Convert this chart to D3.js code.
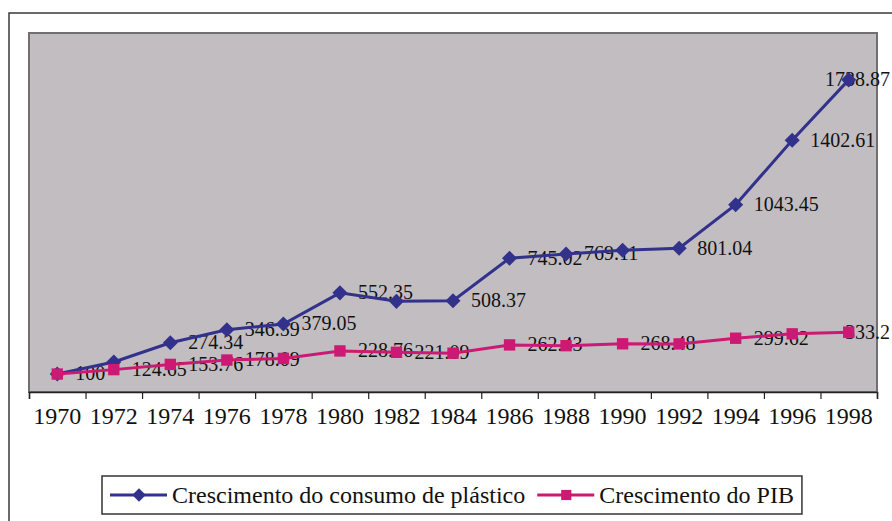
<!DOCTYPE html>
<html>
<head>
<meta charset="utf-8">
<script src="https://d3js.org/d3.v7.min.js"></script>
<style>
  body { margin: 0; background: #fff; }
  svg text { font-family: "Liberation Serif", "Times New Roman", serif; fill: #111; }
</style>
</head>
<body>
<svg id="chart" width="892" height="521"></svg>
<script>
var years = ["1970","1972","1974","1976","1978","1980","1982","1984","1986","1988","1990","1992","1994","1996","1998"];

var plastico = [100, 167, 274.34, 346.59, 379.05, 552.35, 505, 508.37, 745.02, 769.11, 790, 801.04, 1043.45, 1402.61, 1738.87];
var plasticoLabels = [null, null, "274.34", "346.59", "379.05", "552.35", null, "508.37", "745.02", "769.11", null, "801.04", "1043.45", "1402.61", "1738.87"];

var pib = [100, 124.65, 153.76, 178.09, 187, 228.76, 221.09, 216, 262.43, 258, 268.48, 268, 299.62, 324, 333.2];
var pibLabels = ["100", "124.65", "153.76", "178.09", null, "228.76", "221.09", null, "262.43", null, "268.48", null, "299.62", null, "333.2"];

var seriesNames = ["Crescimento do consumo de plástico", "Crescimento do PIB"];
var yDomain = [0, 2000];

var serif = "'Liberation Serif', 'Times New Roman', serif";
var plot = {left: 29, right: 877, top: 33, bottom: 392};

var svg = d3.select("#chart");

// outer chart border (runs off the page right/bottom)
svg.append("rect")
    .attr("x", 9).attr("y", 13)
    .attr("width", 920).attr("height", 540)
    .attr("fill", "none")
    .attr("stroke", "#3a3a3a")
    .attr("stroke-width", 1.5);

var x = d3.scaleBand()
    .domain(years)
    .range([plot.left, plot.right]);

var xEdge = d3.scaleLinear()
    .domain([0, years.length])
    .range([plot.left, plot.right]);

var y = d3.scaleLinear()
    .domain(yDomain)
    .range([plot.bottom, plot.top]);

svg.append("rect")
    .attr("x", plot.left).attr("y", plot.top)
    .attr("width", plot.right - plot.left)
    .attr("height", plot.bottom - plot.top)
    .attr("fill", "#c2bdc1")
    .attr("stroke", "#707070")
    .attr("stroke-width", 2);

// tick marks sit between categories
svg.append("g")
    .attr("class", "x ticks")
    .attr("transform", "translate(0," + plot.bottom + ")")
    .call(d3.axisBottom(xEdge).tickValues(d3.range(years.length + 1)).tickSize(7).tickFormat(""))
    .call(function(g){
      g.select(".domain").attr("stroke", "#222").attr("stroke-width", 1.5);
      g.selectAll(".tick line").attr("stroke", "#222").attr("stroke-width", 1.2);
    });

svg.append("g")
    .attr("class", "x axis")
    .attr("transform", "translate(0," + plot.bottom + ")")
    .call(d3.axisBottom(x).tickSize(0).tickPadding(15))
    .call(function(g){
      g.attr("font-family", null).attr("font-size", null);
      g.select(".domain").remove();
      g.selectAll("text")
        .style("font-family", serif)
        .style("font-size", "24px")
        .attr("fill", "#111");
    });

var series = [
  {name: seriesNames[0], values: plastico, labels: plasticoLabels, color: "#32328c", symbol: d3.symbolDiamond2, size: 145},
  {name: seriesNames[1], values: pib, labels: pibLabels, color: "#cc1a74", symbol: d3.symbolSquare2, size: 165}
];

var line = d3.line()
    .x(function(d, i){ return x(years[i]) + x.bandwidth() / 2; })
    .y(function(d){ return y(d); });

// data labels (under the markers, as in the original)
series.forEach(function(s){
  svg.append("g")
    .selectAll("text")
    .data(s.values.map(function(v, i){ return {v: v, i: i, label: s.labels[i]}; })
      .filter(function(d){ return d.label !== null; }))
    .enter().append("text")
      .style("font-family", serif)
      .style("font-size", "20px")
      .attr("dy", "0.32em")
      .attr("y", function(d){ return y(d.v); })
      .text(function(d){ return d.label; })
      .attr("x", function(d){
        var px = x(years[d.i]) + x.bandwidth() / 2 + 18;
        var w = this.getComputedTextLength();
        return Math.min(px, 890 - w);
      });
});

series.forEach(function(s){
  svg.append("path")
    .datum(s.values)
    .attr("fill", "none")
    .attr("stroke", s.color)
    .attr("stroke-width", 3)
    .attr("d", line);

  svg.append("g")
    .selectAll("path")
    .data(s.values)
    .enter().append("path")
      .attr("d", d3.symbol().type(s.symbol).size(s.size))
      .attr("transform", function(d, i){ return "translate(" + (x(years[i]) + x.bandwidth() / 2) + "," + y(d) + ")"; })
      .attr("fill", s.color);
});

// legend
var legend = svg.append("g").attr("class", "legend");
var legendY = 495;
var cursor = 110;
series.forEach(function(s){
  var it = legend.append("g");
  it.append("line")
    .attr("x1", cursor).attr("x2", cursor + 57)
    .attr("y1", legendY).attr("y2", legendY)
    .attr("stroke", s.color).attr("stroke-width", 3);
  it.append("path")
    .attr("d", d3.symbol().type(s.symbol).size(s.size * 0.8))
    .attr("transform", "translate(" + (cursor + 29) + "," + legendY + ")")
    .attr("fill", s.color);
  var t = it.append("text")
    .attr("x", cursor + 62)
    .attr("y", legendY)
    .attr("dy", "0.33em")
    .style("font-family", serif)
    .style("font-size", "24px")
    .text(s.name);
  cursor += 62 + t.node().getComputedTextLength() + 12;
});

legend.insert("rect", ":first-child")
    .attr("x", 102).attr("y", 476)
    .attr("width", cursor - 12 + 8 - 102)
    .attr("height", 38)
    .attr("fill", "#fff")
    .attr("stroke", "#333")
    .attr("stroke-width", 1.5);
</script>
</body>
</html>
